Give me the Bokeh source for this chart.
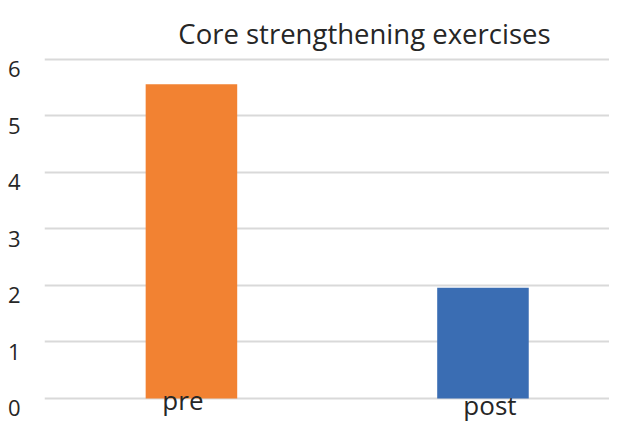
from bokeh.plotting import figure
from bokeh.models import Range1d, FixedTicker, LinearAxis, ColumnDataSource, LabelSet, Label
from bokeh.core.properties import value
from bokeh.embed import file_html
from bokeh.resources import INLINE

# ---- data ----
title_text = "Core strengthening exercises"
categories = ["pre", "post"]
values = [5.56, 1.96]
bar_colors = ["#F28232", "#3A6DB3"]
y_ticks = [0, 1, 2, 3, 4, 5, 6]

FONT = "Open Sans"
TEXT_COLOR = "#262626"

# per-label pixel nudges (the reference staggers its category labels)
label_dx = [-8.5, 7]
label_dy = [-12, -17]

idx = list(range(len(categories)))
src = ColumnDataSource(dict(x=idx, top=values, color=bar_colors, cat=categories,
                            y=[0] * len(categories), dx=label_dx, dy=label_dy))

# frame spans the full height; gridlines only at the fixed ticks
y0, y1 = -0.478, 7.044
p = figure(width=609, height=425, output_backend="svg", toolbar_location=None,
           x_range=Range1d(-0.504, 1.434), y_range=Range1d(y0, y1),
           min_border_left=44, min_border_right=0, min_border_top=0, min_border_bottom=0,
           x_axis_location=None, y_axis_location=None)
p.outline_line_color = None
p.background_fill_color = "white"
p.border_fill_color = "white"
p.xgrid.visible = False

p.ygrid.ticker = FixedTicker(ticks=y_ticks)
p.ygrid.grid_line_color = "#D9D9D9"
p.ygrid.grid_line_width = 2

# tick labels sit a little below their gridlines in the reference
shift = 0.17
p.extra_y_ranges = {"lab": Range1d(y0 + shift, y1 + shift)}
ax = LinearAxis(y_range_name="lab", ticker=FixedTicker(ticks=y_ticks))
ax.axis_line_color = None
ax.major_tick_line_color = None
ax.minor_tick_line_color = None
ax.major_label_standoff = 18
ax.major_label_text_font = FONT
ax.major_label_text_font_size = "22px"
ax.major_label_text_color = TEXT_COLOR
p.add_layout(ax, "left")

p.vbar(x="x", top="top", bottom=0, width=0.314, color="color", source=src, line_color=None)

cat_labels = LabelSet(x="x", y="y", text="cat", source=src, x_offset="dx", y_offset="dy",
                      text_font=value(FONT), text_font_size=value("26px"),
                      text_color=TEXT_COLOR, text_align="center",
                      text_baseline="alphabetic")
p.add_layout(cat_labels)

title_lbl = Label(x=-0.045, y=6.46, text=title_text,
                  text_font=FONT, text_font_size="27.5px", text_color=TEXT_COLOR,
                  text_align="left", text_baseline="alphabetic")
p.add_layout(title_lbl)

open("out.html", "w").write(file_html(p, INLINE))
